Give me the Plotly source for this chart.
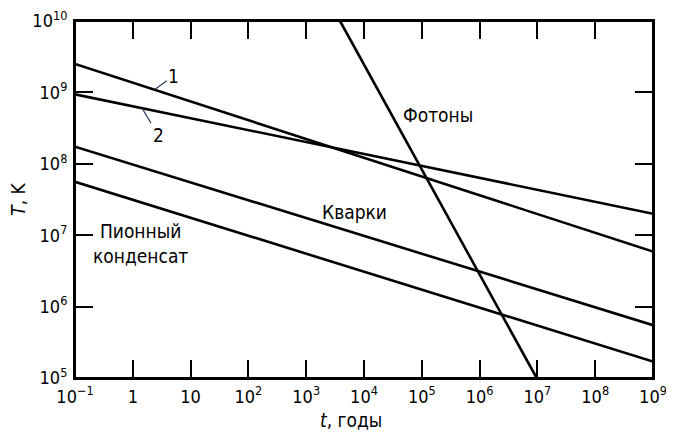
import plotly.graph_objects as go

# Data
t_span = [0.1, 1e9]
line1_T = [2.5e9, 5.9e6]
line2_T = [9.4e8, 2.0e7]
quarks_T = [1.74e8, 5.5e5]
pion_T = [5.6e7, 1.7e5]
photons_t = [3.85e3, 9.7e6]
photons_T = [1e10, 1e5]

x_tickvals = [1e-1, 1, 10, 1e2, 1e3, 1e4, 1e5, 1e6, 1e7, 1e8, 1e9]
x_ticktext = ["10<sup>−1</sup>", "1", "10", "10<sup>2</sup>", "10<sup>3</sup>", "10<sup>4</sup>",
              "10<sup>5</sup>", "10<sup>6</sup>", "10<sup>7</sup>", "10<sup>8</sup>", "10<sup>9</sup>"]
y_tickvals = [1e5, 1e6, 1e7, 1e8, 1e9, 1e10]
y_ticktext = ["10<sup>5</sup>", "10<sup>6</sup>", "10<sup>7</sup>", "10<sup>8</sup>", "10<sup>9</sup>", "10<sup>10</sup>"]

FONT = "DejaVu Sans Condensed, Liberation Sans Narrow, sans-serif"
LW = 2.6

fig = go.Figure()
for xs, ys in [(t_span, line1_T), (t_span, line2_T), (t_span, quarks_T), (t_span, pion_T),
               (photons_t, photons_T)]:
    fig.add_trace(go.Scatter(x=xs, y=ys, mode="lines", line=dict(color="black", width=LW),
                             showlegend=False, hoverinfo="skip"))

axis_common = dict(type="log", showgrid=False, zeroline=False, showline=True, linecolor="black",
                   linewidth=2, mirror="ticks", ticks="inside", ticklen=18, tickwidth=1.8,
                   tickcolor="black", automargin=False, ticklabeloverflow="allow",
                   tickfont=dict(family=FONT, size=18, color="black"))

fig.update_xaxes(range=[-1, 9], tickvals=x_tickvals, ticktext=x_ticktext,
                 ticklabelstandoff=1, **axis_common)
fig.update_yaxes(range=[5, 10], tickvals=y_tickvals, ticktext=y_ticktext,
                 ticklabelstandoff=2, **axis_common)

# explicit plot frame
fig.add_shape(type="rect", xref="paper", yref="paper", x0=0, y0=0, x1=1, y1=1,
              line=dict(color="black", width=2), layer="above")

title_font = dict(family=FONT, size=19, color="black")
fig.add_annotation(xref="paper", yref="paper", x=0.478, y=-0.1176, text="<i>t</i>, годы",
                   showarrow=False, font=title_font, xanchor="center", yanchor="middle")
fig.add_annotation(xref="paper", yref="paper", x=-0.100, y=0.5, text="<i>T</i>, K",
                   showarrow=False, font=title_font, textangle=-90,
                   xanchor="center", yanchor="middle")

lab_font = dict(family=FONT, size=19, color="black")
fig.add_annotation(x=0.38, y=9.04, text="1", showarrow=True, arrowhead=0, arrowwidth=1.2,
                   ax=19, ay=-14, font=lab_font, standoff=0)
fig.add_annotation(x=0.16, y=8.78, text="2", showarrow=True, arrowhead=0, arrowwidth=1.2,
                   ax=16, ay=27, font=lab_font, standoff=0)
fig.add_annotation(x=5.28, y=8.68, text="Фотоны", showarrow=False, font=lab_font)
fig.add_annotation(x=3.84, y=7.33, text="Кварки", showarrow=False, font=lab_font)
fig.add_annotation(x=0.14, y=6.89, text="Пионный<br>конденсат", showarrow=False,
                   font=lab_font, align="center")

# the page body adds an 8px offset, so margins are reduced by 8px on the left and top
fig.update_layout(width=674, height=436, margin=dict(l=67, r=29, t=13, b=66),
                  plot_bgcolor="white", paper_bgcolor="white")

fig.write_html("out.html", config={"displayModeBar": False})
